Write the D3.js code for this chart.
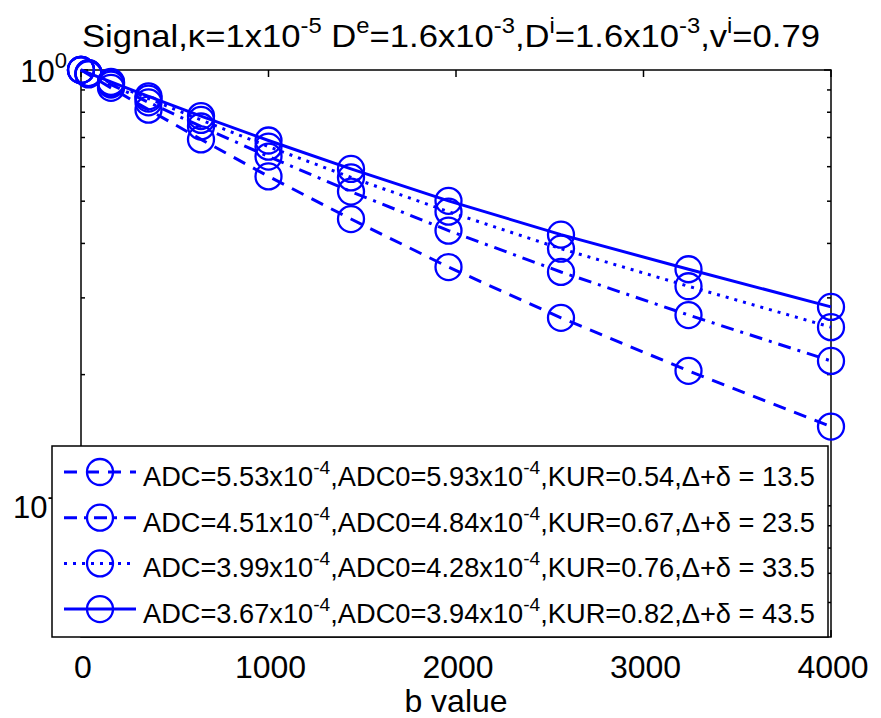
<!DOCTYPE html>
<html>
<head>
<meta charset="utf-8">
<script src="https://cdn.jsdelivr.net/npm/d3@7"></script>
<style>
  body { margin: 0; background: #fff; }
  text { font-family: "Liberation Sans", Arial, sans-serif; fill: #000; }
</style>
</head>
<body>
<div id="chart"></div>
<script>
// b values (x) and signal per diffusion time (y)
var bValues = [0, 40, 160, 360, 640, 1000, 1440, 1960, 2560, 3240, 4000];
var sig1 = [1, 0.977, 0.910, 0.811, 0.693, 0.570, 0.455, 0.353, 0.270, 0.204, 0.152];
var sig2 = [1, 0.981, 0.926, 0.843, 0.742, 0.633, 0.526, 0.428, 0.344, 0.274, 0.215];
var sig3 = [1, 0.983, 0.934, 0.860, 0.768, 0.667, 0.567, 0.473, 0.389, 0.319, 0.257];
var sig4 = [1, 0.984, 0.939, 0.870, 0.784, 0.689, 0.593, 0.501, 0.419, 0.349, 0.286];

// legend values
var adc = ["5.53", "4.51", "3.99", "3.67"];
var adc0 = ["5.93", "4.84", "4.28", "3.94"];
var kur = ["0.54", "0.67", "0.76", "0.82"];
var delta = ["13.5", "23.5", "33.5", "43.5"];

var xTicks = [0, 1000, 2000, 3000, 4000];
var yMajor = [1, 0.1];
var yMinor = [0.9, 0.8, 0.7, 0.6, 0.5, 0.4, 0.3, 0.2, 0.09, 0.08, 0.07, 0.06];

var width = 881, height = 718;
var pLeft = 81, pRight = 831, pTop = 70, pBottom = 637;
var blue = "#0000ff";

var dashes = ["13,9", "13,7,3,7", "3,6", null];

var svg = d3.select("#chart")
    .append("svg")
    .attr("width", width)
    .attr("height", height);

var x = d3.scaleLinear().domain([0, 4000]).range([pLeft, pRight]);
var y = d3.scaleLog().domain([0.05, 1]).range([pBottom, pTop]);

// writes text with superscript parts
function richText(sel, parts, supSize, rise) {
    var back = 0;
    parts.forEach(function(p) {
        if (p[1]) {
            sel.append("tspan").attr("dy", -rise - back).style("font-size", supSize + "px").text(p[0]);
            back = -rise;
        } else {
            sel.append("tspan").attr("dy", -back).text(p[0]);
            back = 0;
        }
    });
}

// axes box
svg.append("rect")
    .attr("x", pLeft).attr("y", pTop)
    .attr("width", pRight - pLeft).attr("height", pBottom - pTop)
    .attr("fill", "none").attr("stroke", "#000").attr("stroke-width", 1.5);

// x ticks top and bottom
xTicks.forEach(function(t) {
    svg.append("line").attr("x1", x(t)).attr("x2", x(t)).attr("y1", pTop).attr("y2", pTop + 7)
        .attr("stroke", "#000").attr("stroke-width", 1.5);
    svg.append("line").attr("x1", x(t)).attr("x2", x(t)).attr("y1", pBottom).attr("y2", pBottom - 7)
        .attr("stroke", "#000").attr("stroke-width", 1.5);
    svg.append("text").attr("x", x(t) + 2).attr("y", 678)
        .attr("text-anchor", "middle").style("font-size", "32px").text(t);
});

// y ticks left and right
function yTick(v, len) {
    svg.append("line").attr("x1", pLeft).attr("x2", pLeft + len).attr("y1", y(v)).attr("y2", y(v))
        .attr("stroke", "#000").attr("stroke-width", 1.5);
    svg.append("line").attr("x1", pRight).attr("x2", pRight - len).attr("y1", y(v)).attr("y2", y(v))
        .attr("stroke", "#000").attr("stroke-width", 1.5);
}
yMinor.forEach(function(v) { yTick(v, 4); });
yMajor.forEach(function(v) {
    yTick(v, 7);
    var t = svg.append("text").attr("x", 67).attr("y", y(v) + 12)
        .attr("text-anchor", "end").style("font-size", "31px");
    richText(t, [["10", false], [String(Math.round(Math.log10(v))), true]], 22, 14);
});

// x label
svg.append("text").attr("x", 456).attr("y", 712)
    .attr("text-anchor", "middle").style("font-size", "32px").text("b value");

// title
var title = svg.append("text").attr("x", 451).attr("y", 47)
    .attr("text-anchor", "middle").style("font-size", "32px")
    .attr("textLength", 738).attr("lengthAdjust", "spacingAndGlyphs");
richText(title, [["Signal,\u03ba=1x10", false], ["-5", true], [" D", false], ["e", true],
    ["=1.6x10", false], ["-3", true], [",D", false], ["i", true], ["=1.6x10", false],
    ["-3", true], [",v", false], ["i", true], ["=0.79", false]], 22, 14);

// series
var series = [sig1, sig2, sig3, sig4];
var line = d3.line()
    .x(function(d, i) { return x(bValues[i]); })
    .y(function(d) { return y(d); });

series.forEach(function(s, k) {
    svg.append("path")
        .datum(s)
        .attr("d", line)
        .attr("fill", "none")
        .attr("stroke", blue)
        .attr("stroke-width", 3)
        .attr("stroke-dasharray", dashes[k]);
    svg.selectAll(".m" + k)
        .data(s)
        .enter()
        .append("circle")
        .attr("class", "m" + k)
        .attr("cx", function(d, i) { return x(bValues[i]); })
        .attr("cy", function(d) { return y(d); })
        .attr("r", 13)
        .attr("fill", "none")
        .attr("stroke", blue)
        .attr("stroke-width", 2.3);
});

// legend
var lg = svg.append("g");
lg.append("rect")
    .attr("x", 52).attr("y", 446)
    .attr("width", 776).attr("height", 191)
    .attr("fill", "#fff").attr("stroke", "#000").attr("stroke-width", 1.5);

adc.forEach(function(a, k) {
    var cy = 472 + k * 45.7;
    lg.append("line").attr("x1", 64).attr("x2", 136).attr("y1", cy).attr("y2", cy)
        .attr("stroke", blue).attr("stroke-width", 3).attr("stroke-dasharray", dashes[k]);
    lg.append("circle").attr("cx", 100).attr("cy", cy).attr("r", 13)
        .attr("fill", "none").attr("stroke", blue).attr("stroke-width", 2.3);
    var t = lg.append("text").attr("x", 143).attr("y", cy + 14).style("font-size", "27px")
        .attr("textLength", 672).attr("lengthAdjust", "spacingAndGlyphs");
    richText(t, [["ADC=" + a + "x10", false], ["-4", true], [",ADC0=" + adc0[k] + "x10", false],
        ["-4", true], [",KUR=" + kur[k] + ",\u0394+\u03b4 = " + delta[k], false]], 19, 12);
});
</script>
</body>
</html>
